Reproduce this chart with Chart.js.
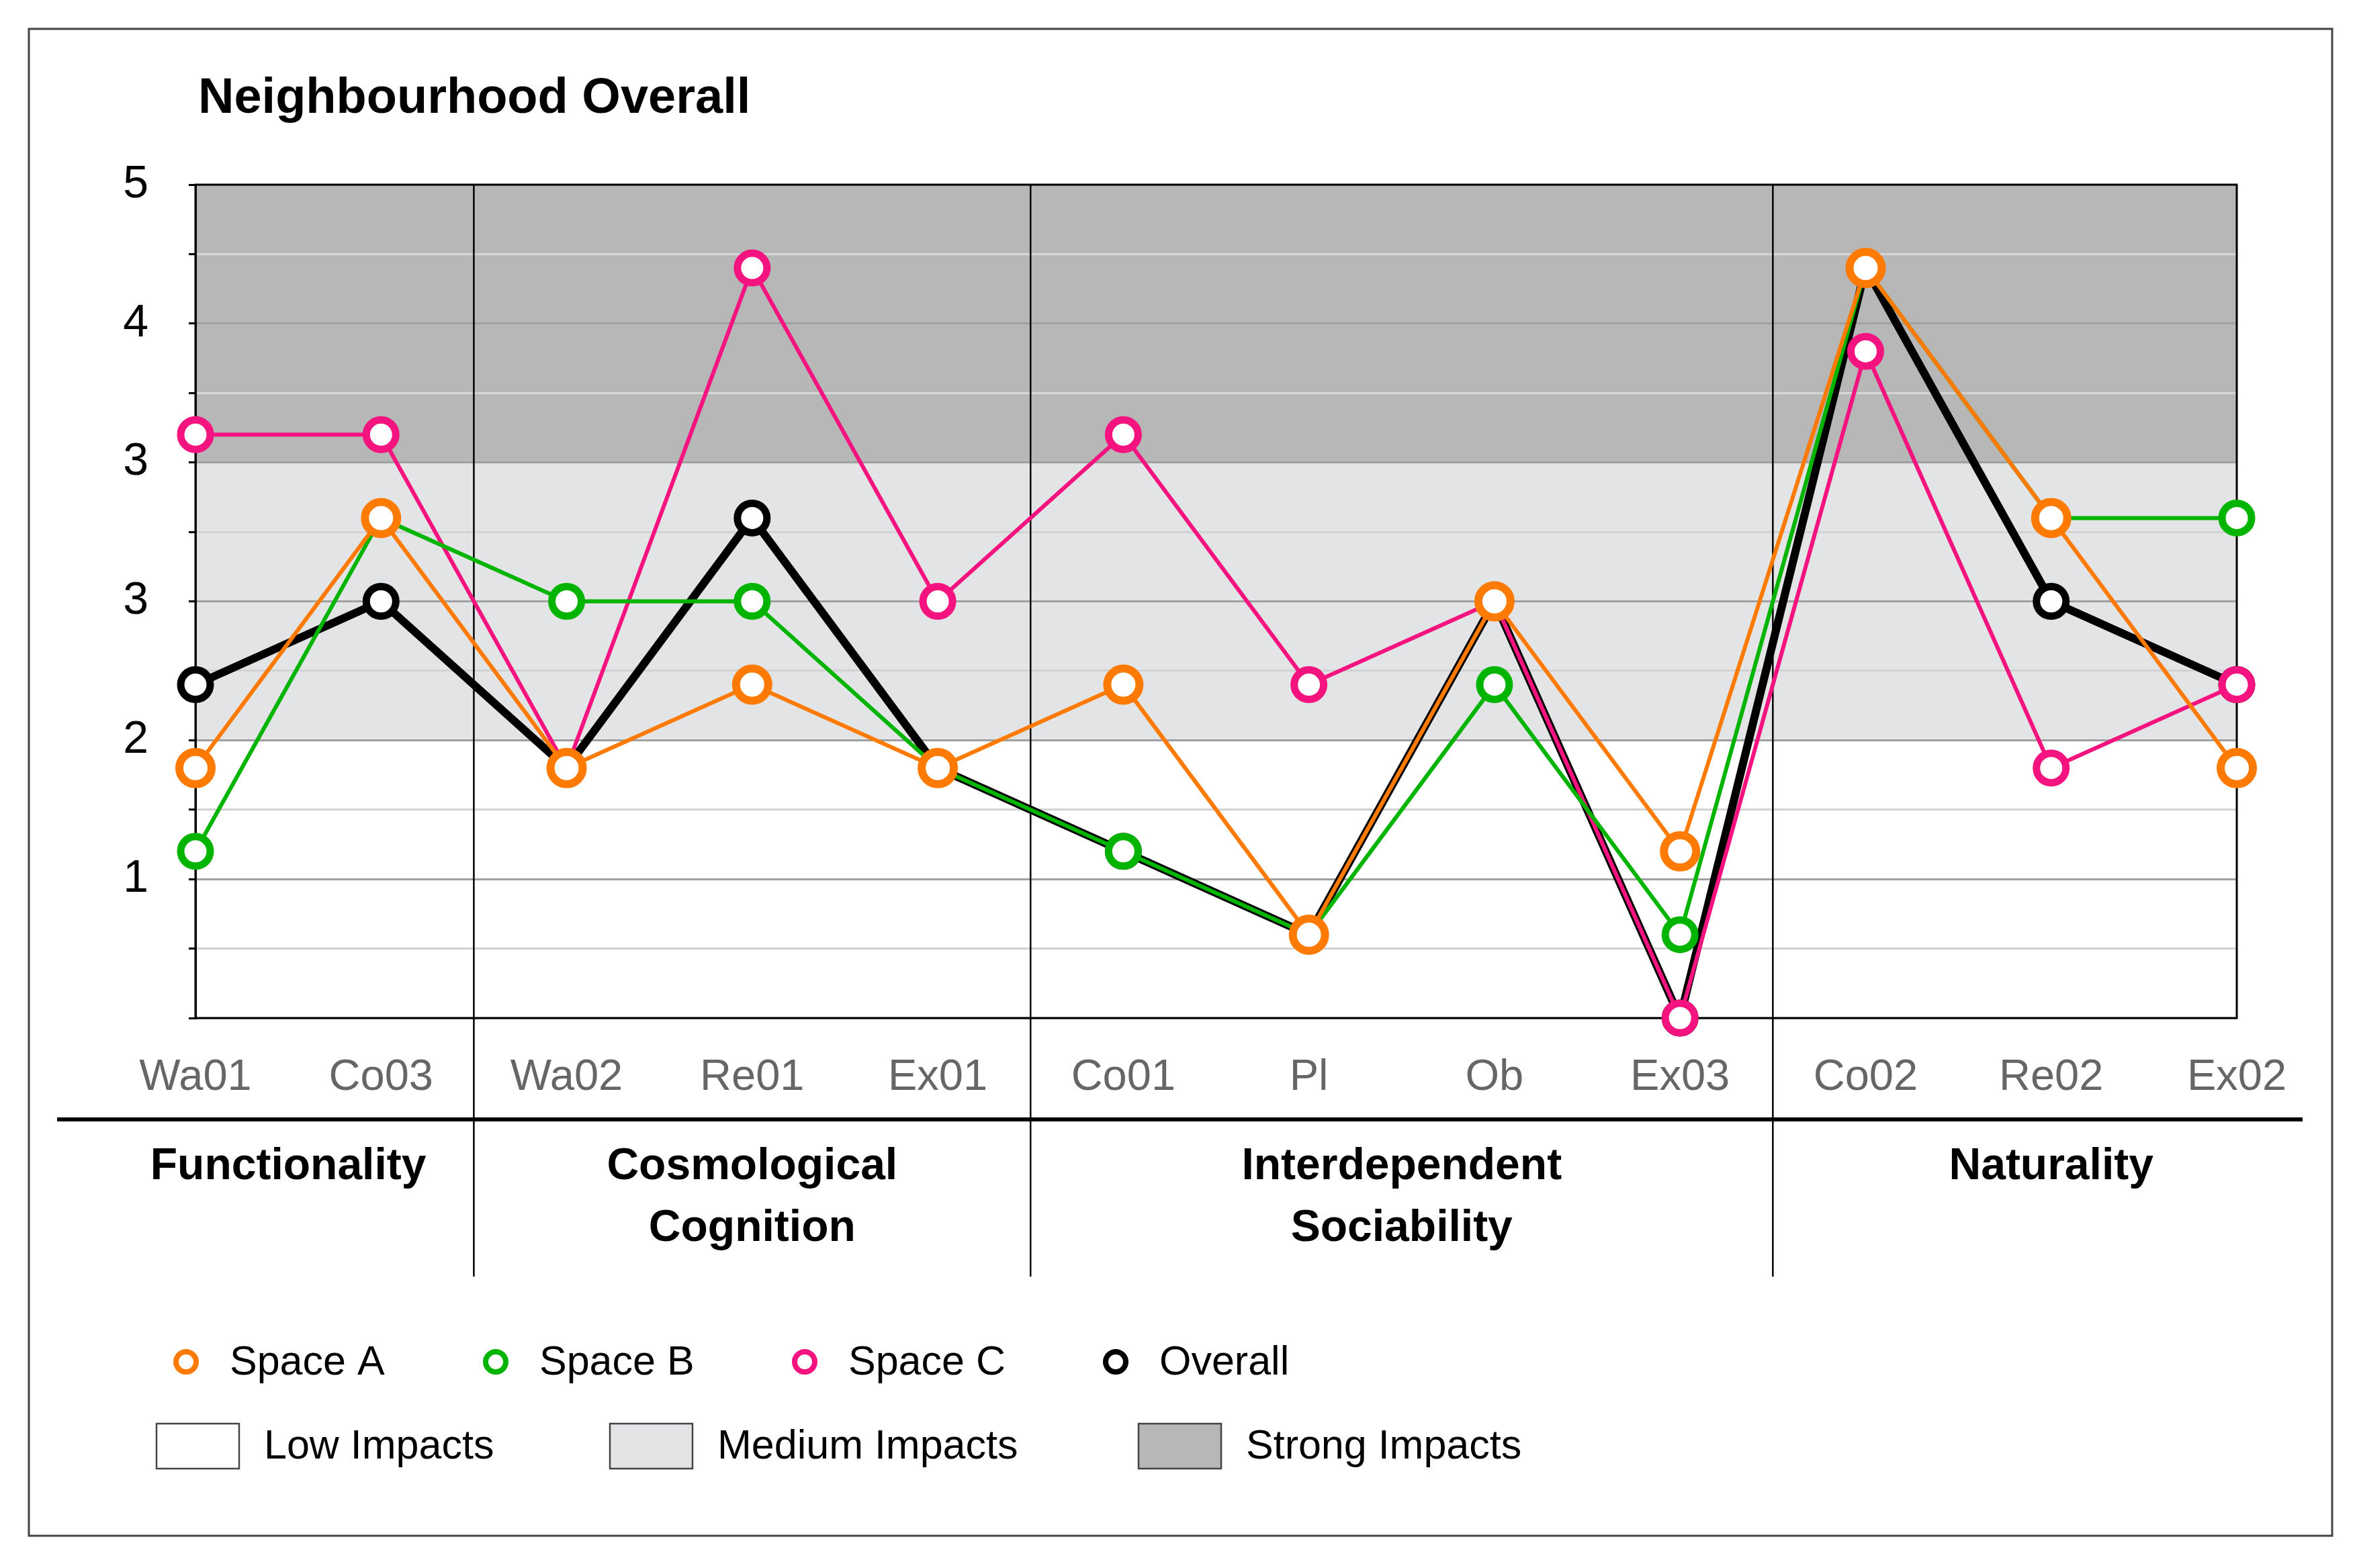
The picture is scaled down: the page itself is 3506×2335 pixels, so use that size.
<!DOCTYPE html>
<html>
<head>
<meta charset="utf-8">
<script src="https://cdn.jsdelivr.net/npm/chart.js@4.4.1/dist/chart.umd.min.js"></script>
<style>
  html, body { margin: 0; padding: 0; background: #fff; }
  canvas { display: block; }
</style>
</head>
<body>
<canvas id="chart" width="3506" height="2335" style="width:3506px;height:2335px"></canvas>
<script>
const categories = ['Wa01', 'Co03', 'Wa02', 'Re01', 'Ex01', 'Co01', 'Pl', 'Ob', 'Ex03', 'Co02', 'Re02', 'Ex02'];
const spaceA  = [1.8, 3.6, 1.8, 2.4, 1.8, 2.4, 0.6, 3.0, 1.2, 5.4, 3.6, 1.8];
const spaceB  = [1.2, 3.6, 3.0, 3.0, 1.8, 1.2, 0.6, 2.4, 0.6, 5.4, 3.6, 3.6];
const spaceC  = [4.2, 4.2, 1.8, 5.4, 3.0, 4.2, 2.4, 3.0, 0.0, 4.8, 1.8, 2.4];
const overall = [2.4, 3.0, 1.8, 3.6, 1.8, 1.2, 0.6, 3.0, 0.0, 5.4, 3.0, 2.4];

// y tick labels as printed on the original axis (index = axis position)
const yTickLabels = ['', '1', '2', '3', '3', '4', '5'];

const groupNames = [['Functionality'], ['Cosmological', 'Cognition'], ['Interdependent', 'Sociability'], ['Naturality']];
const groupSizes = [2, 3, 4, 3];

const bandEdges = [0, 2, 4, 6];
const bandColors = ['#ffffff', '#e3e4e5', '#b7b7b7'];
const bandNames = ['Low Impacts', 'Medium Impacts', 'Strong Impacts'];

const FONT = '"Liberation Sans", Arial, Helvetica, sans-serif';

function series(label, data, color, lineW, r, bw) {
    return {
        label: label,
        data: data,
        borderColor: color,
        backgroundColor: color,
        borderWidth: lineW,
        pointRadius: r,
        pointHoverRadius: r,
        pointBorderWidth: bw,
        pointBackgroundColor: '#ffffff',
        pointBorderColor: color,
        tension: 0,
        clip: false
    };
}

const bands = {
    id: 'bands',
    beforeDraw(chart) {
        const ctx = chart.ctx, a = chart.chartArea, y = chart.scales.y;
        ctx.save();
        for (let i = 0; i < bandColors.length; i++) {
            const top = y.getPixelForValue(bandEdges[i + 1]);
            const bot = y.getPixelForValue(bandEdges[i]);
            ctx.fillStyle = bandColors[i];
            ctx.fillRect(a.left, top, a.right - a.left, bot - top);
        }
        ctx.restore();
    },
    beforeDatasetsDraw(chart) {
        const ctx = chart.ctx, a = chart.chartArea, x = chart.scales.x;
        ctx.save();
        ctx.strokeStyle = '#000';
        ctx.lineWidth = 2.5;
        let idx = 0;
        for (let g = 0; g < groupSizes.length - 1; g++) {
            idx += groupSizes[g];
            const sx = (x.getPixelForValue(idx - 1) + x.getPixelForValue(idx)) / 2;
            ctx.beginPath();
            ctx.moveTo(sx, a.top);
            ctx.lineTo(sx, 1901);
            ctx.stroke();
        }
        ctx.lineWidth = 3;
        ctx.strokeRect(a.left, a.top, a.right - a.left, a.bottom - a.top);
        ctx.restore();
    },
    afterDraw(chart) {
        const ctx = chart.ctx, x = chart.scales.x;
        ctx.save();
        // outer frame
        ctx.strokeStyle = '#444';
        ctx.lineWidth = 3;
        ctx.strokeRect(43, 43, 3429, 2244);

        // title
        ctx.fillStyle = '#000';
        ctx.font = 'bold 74px ' + FONT;
        ctx.textAlign = 'left';
        ctx.textBaseline = 'middle';
        ctx.fillText('Neighbourhood Overall', 295, 148);

        // separator under category labels
        ctx.strokeStyle = '#000';
        ctx.lineWidth = 6;
        ctx.beginPath();
        ctx.moveTo(85, 1667);
        ctx.lineTo(3428, 1667);
        ctx.stroke();

        // group labels
        ctx.font = 'bold 66px ' + FONT;
        ctx.textAlign = 'center';
        let idx = 0;
        groupNames.forEach((lines, g) => {
            const first = x.getPixelForValue(idx);
            const last = x.getPixelForValue(idx + groupSizes[g] - 1);
            const cx = (first + last) / 2;
            lines.forEach((t, k) => ctx.fillText(t, cx, 1738 + k * 92));
            idx += groupSizes[g];
        });

        // legend row 1: series
        ctx.font = '61px ' + FONT;
        ctx.textAlign = 'left';
        const lx = [277, 738, 1198, 1661];
        chart.data.datasets.forEach((ds, i) => {
            ctx.beginPath();
            ctx.arc(lx[i], 2028, 15, 0, Math.PI * 2);
            ctx.fillStyle = '#fff';
            ctx.fill();
            ctx.lineWidth = 8;
            ctx.strokeStyle = ds.borderColor;
            ctx.stroke();
            ctx.fillStyle = '#000';
            ctx.fillText(ds.label, lx[i] + 65, 2030);
        });

        // legend row 2: impact bands
        const bx = [233, 908, 1695];
        bandNames.forEach((name, i) => {
            ctx.fillStyle = bandColors[i];
            ctx.fillRect(bx[i], 2120, 123, 67);
            ctx.lineWidth = 2.5;
            ctx.strokeStyle = '#444';
            ctx.strokeRect(bx[i], 2120, 123, 67);
            ctx.fillStyle = '#000';
            ctx.fillText(name, bx[i] + 160, 2155);
        });
        ctx.restore();
    }
};

new Chart(document.getElementById('chart'), {
    type: 'line',
    data: {
        labels: categories,
        datasets: [
            series('Space A', spaceA, '#ff7a00', 6, 24, 12),
            series('Space B', spaceB, '#00b400', 6, 22, 11),
            series('Space C', spaceC, '#f5137f', 6, 22, 11),
            series('Overall', overall, '#000000', 12, 22, 11)
        ]
    },
    options: {
        responsive: false,
        devicePixelRatio: 1,
        animation: false,
        layout: { padding: { left: 0, top: 275, right: 176, bottom: 0 } },
        plugins: {
            legend: { display: false },
            title: { display: false },
            tooltip: { enabled: false }
        },
        scales: {
            x: {
                type: 'category',
                offset: false,
                afterFit(scale) { scale.height = 2335 - 1516; },
                grid: { display: false, drawTicks: false },
                border: { display: false },
                ticks: {
                    color: '#666',
                    padding: 50,
                    autoSkip: false,
                    maxRotation: 0,
                    font: { family: FONT, size: 65 }
                }
            },
            y: {
                min: 0,
                max: 6,
                afterFit(scale) { scale.width = 291; },
                border: { display: true, color: '#000', width: 3 },
                grid: {
                    drawTicks: true,
                    tickLength: 10,
                    tickColor: '#000',
                    lineWidth: 3,
                    color(c) {
                        const v = c.tick ? c.tick.value : 0;
                        if (Number.isInteger(v)) return '#a0a0a0';
                        return v > 4 ? '#d6d6d6' : '#d2d2d2';
                    }
                },
                ticks: {
                    stepSize: 0.5,
                    autoSkip: false,
                    color: '#000',
                    padding: 60,
                    font: { family: FONT, size: 68 },
                    callback(v) {
                        return Number.isInteger(v) ? yTickLabels[v] : '';
                    }
                }
            }
        }
    },
    plugins: [bands]
});
</script>
</body>
</html>
